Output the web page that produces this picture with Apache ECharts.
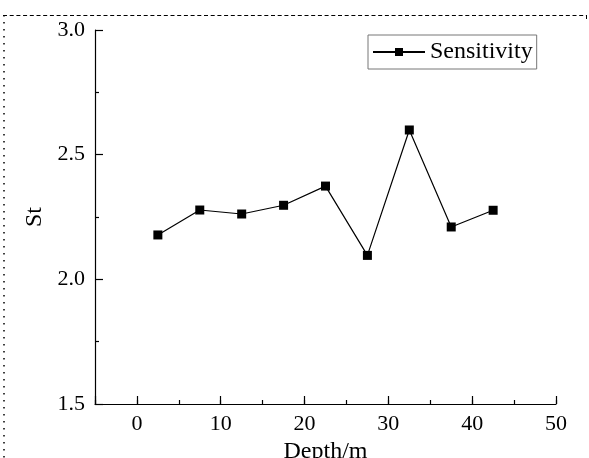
<!DOCTYPE html>
<html>
<head>
<meta charset="utf-8">
<script src="https://cdn.jsdelivr.net/npm/echarts@6/dist/echarts.min.js"></script>
<style>
html,body{margin:0;padding:0;background:#fff;}
#chart{width:589px;height:458px;}
</style>
</head>
<body>
<div id="chart"></div>
<script>
var depths = [2.5, 7.5, 12.5, 17.5, 22.5, 27.5, 32.5, 37.5, 42.5];
var sensitivity = [2.178, 2.278, 2.262, 2.297, 2.374, 2.096, 2.599, 2.210, 2.277];
var seriesName = 'Sensitivity';
var xTitle = 'Depth/m';
var yTitle = 'St';

var FONT = '"Liberation Serif", "Times New Roman", serif';
var chart = echarts.init(document.getElementById('chart'), null, {renderer: 'canvas'});
var data = depths.map(function (d, i) { return [d, sensitivity[i]]; });

chart.setOption({
  animation: false,
  backgroundColor: '#fff',
  grid: {left: 95, right: 33, top: 30, bottom: 54, containLabel: false, outerBoundsMode: 'none'},
  legend: {
    left: 368, top: 35,
    orient: 'horizontal',
    padding: [5, 4, 5, 4],
    borderColor: '#777', borderWidth: 1,
    itemWidth: 52, itemHeight: 10,
    textStyle: {fontFamily: FONT, fontSize: 24, color: '#000'},
    data: [seriesName]
  },
  xAxis: [{
    type: 'value', min: -5, max: 50, interval: 5,
    position: 'bottom', offset: 0,
    axisLine: {show: true, onZero: false, lineStyle: {color: '#000', width: 1.2}},
    axisTick: {show: true, inside: true, length: 4, lineStyle: {color: '#000', width: 1.2}},
    axisLabel: {
      fontFamily: FONT, fontSize: 22, color: '#000', margin: 9,
      formatter: function (v) { return (Math.round(v) % 10 === 0) ? String(v) : ''; }
    },
    splitLine: {show: false},
    name: xTitle, nameLocation: 'middle', nameGap: 33,
    nameTextStyle: {fontFamily: FONT, fontSize: 24, color: '#000'}
  }, {
    type: 'value', min: -50, max: 5, interval: 10, inverse: true,
    position: 'bottom', offset: 0,
    axisLine: {show: false, onZero: false},
    axisTick: {show: true, inside: true, length: 8, lineStyle: {color: '#000', width: 1.2}},
    axisLabel: {show: false},
    splitLine: {show: false}
  }],
  yAxis: {
    type: 'value', min: 1.5, max: 3.0, interval: 0.5,
    position: 'left',
    axisLine: {show: true, onZero: false, lineStyle: {color: '#000', width: 1.2}},
    axisTick: {show: true, inside: true, length: 8, lineStyle: {color: '#000', width: 1.2}},
    minorTick: {show: true, splitNumber: 2, length: 4, lineStyle: {color: '#000', width: 1.2}},
    axisLabel: {
      fontFamily: FONT, fontSize: 22, color: '#000', margin: 10,
      formatter: function (v) { return v.toFixed(1); }
    },
    splitLine: {show: false},
    name: yTitle, nameLocation: 'middle', nameGap: 45,
    nameTextStyle: {fontFamily: FONT, fontSize: 24, color: '#000'}
  },
  series: [{
    name: seriesName,
    type: 'line',
    xAxisIndex: 0,
    data: data,
    symbol: 'rect', symbolSize: 9,
    itemStyle: {color: '#000'},
    lineStyle: {color: '#000', width: 1.2},
    showSymbol: true
  }],
  graphic: [
    {type: 'line', shape: {x1: 3, y1: 15.5, x2: 586, y2: 15.5}, style: {stroke: '#000', lineWidth: 1, lineDash: [4, 2.7]}, silent: true},
    {type: 'line', shape: {x1: 586.5, y1: 15, x2: 586.5, y2: 19}, style: {stroke: '#000', lineWidth: 1}, silent: true},
    {type: 'line', shape: {x1: 4, y1: 15, x2: 4, y2: 458}, style: {stroke: '#000', lineWidth: 1.5, lineDash: [1.5, 5.5]}, silent: true}
  ]
});
</script>
</body>
</html>
